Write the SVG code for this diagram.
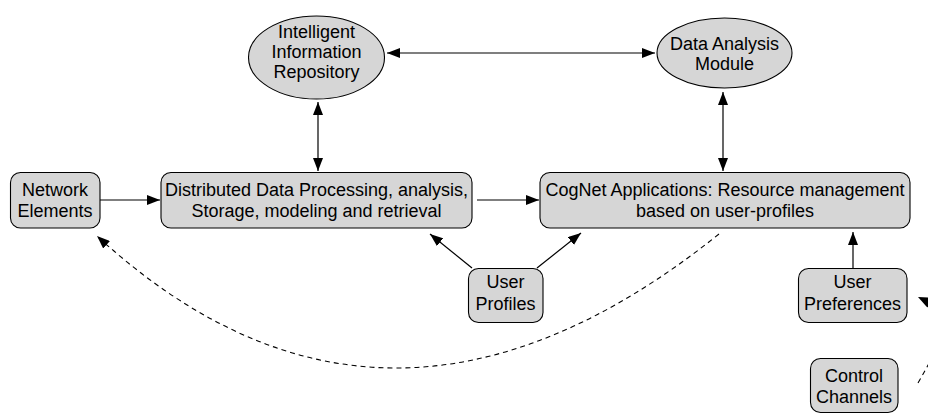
<svg xmlns="http://www.w3.org/2000/svg" width="928" height="414" viewBox="0 0 928 414">
<defs>
<marker id="ah" markerUnits="userSpaceOnUse" markerWidth="13" markerHeight="10" refX="13" refY="5" orient="auto-start-reverse" viewBox="0 0 13 10">
<path d="M0,0 L13,5 L0,10 z" fill="#000"/>
</marker>
</defs>
<style>
.box{fill:#d6d6d6;stroke:#000;stroke-width:1.1}
.t{font-family:"Liberation Sans",Arial,sans-serif;font-size:18px;fill:#000;text-anchor:middle}
.ln{fill:none;stroke:#000;stroke-width:1.2}
.arr{marker-end:url(#ah)}
.bi{marker-start:url(#ah);marker-end:url(#ah)}
.dash{fill:none;stroke:#000;stroke-width:1.1;stroke-dasharray:5 4}
</style>
<rect width="928" height="414" fill="#fff"/>
<g id="connectors">
<line class="ln bi" x1="318" y1="102" x2="318" y2="171"/>
<line class="ln bi" x1="387" y1="53" x2="655" y2="53"/>
<line class="ln bi" x1="723" y1="92" x2="723" y2="171"/>
<line class="ln arr" x1="100" y1="200" x2="160" y2="200"/>
<line class="ln arr" x1="477" y1="200" x2="539" y2="200"/>
<line class="ln arr" x1="472" y1="268" x2="430" y2="234"/>
<line class="ln arr" x1="537" y1="268" x2="581" y2="233"/>
<line class="ln arr" x1="853" y1="268" x2="853" y2="232"/>
<path class="dash arr" d="M719,234 Q386,501 97,236"/>
<path class="dash" d="M918,383 C940,345 955,315 929.7,302.6"/>
<polygon points="918,297 932.1,297.6 927.3,307.6" fill="#000"/>
</g>
<g id="intelligent-information-repository">
<ellipse class="box" cx="316.5" cy="57.5" rx="68" ry="41.5"/>
<text class="t" x="316.5" y="38">Intelligent</text>
<text class="t" x="316.5" y="58">Information</text>
<text class="t" x="316.5" y="78">Repository</text>
</g>
<g id="data-analysis-module">
<ellipse class="box" cx="724.5" cy="53" rx="67.5" ry="35"/>
<text class="t" x="724.5" y="50">Data Analysis</text>
<text class="t" x="724.5" y="70">Module</text>
</g>
<g id="network-elements">
<rect class="box" x="10.5" y="172.5" width="89.5" height="55.5" rx="10"/>
<text class="t" x="55" y="196">Network</text>
<text class="t" x="55" y="217">Elements</text>
</g>
<g id="distributed-processing">
<rect class="box" x="161" y="172.5" width="311" height="55.5" rx="10"/>
<text class="t" x="316.5" y="196">Distributed Data Processing, analysis,</text>
<text class="t" x="316.5" y="217">Storage, modeling and retrieval</text>
</g>
<g id="cognet-applications">
<rect class="box" x="540" y="172.5" width="370" height="55.5" rx="10"/>
<text class="t" x="725" y="196">CogNet Applications: Resource management</text>
<text class="t" x="725" y="217">based on user-profiles</text>
</g>
<g id="user-profiles">
<rect class="box" x="468.5" y="268.5" width="74.5" height="54" rx="10"/>
<text class="t" x="505.5" y="288">User</text>
<text class="t" x="505.5" y="310">Profiles</text>
</g>
<g id="user-preferences">
<rect class="box" x="798.5" y="268.5" width="108.5" height="54" rx="10"/>
<text class="t" x="852.5" y="288">User</text>
<text class="t" x="852.5" y="310">Preferences</text>
</g>
<g id="control-channels">
<rect class="box" x="810.5" y="358.5" width="87.5" height="54" rx="10"/>
<text class="t" x="854" y="382">Control</text>
<text class="t" x="854" y="403">Channels</text>
</g>
</svg>
